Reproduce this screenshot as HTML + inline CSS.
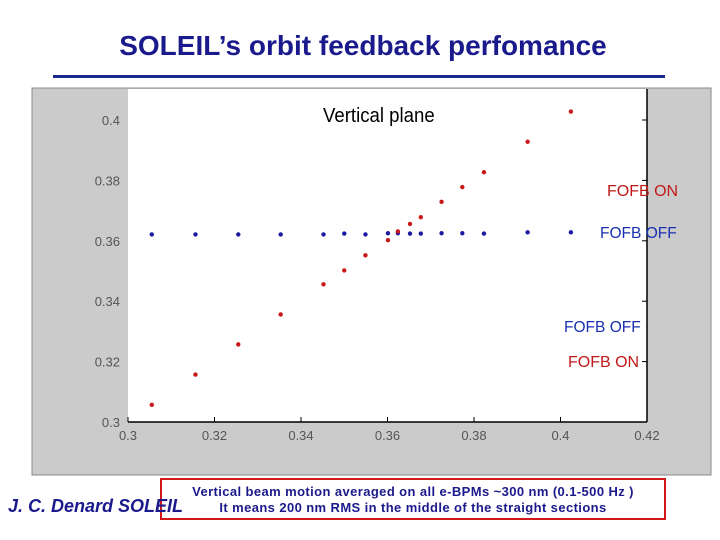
<!DOCTYPE html>
<html><head><meta charset="utf-8"><style>
body{margin:0;width:720px;height:540px;background:#fff;overflow:hidden;font-family:"Liberation Sans",sans-serif;position:relative}
.t{position:absolute;white-space:nowrap}
</style></head><body>
<div class="t" style="left:0;width:726px;top:30px;text-align:center;font-size:28px;font-weight:bold;color:#1a1a8c">SOLEIL’s orbit feedback perfomance</div>
<div style="position:absolute;left:53px;top:75px;width:612px;height:3px;background:#1a2a8c"></div>
<svg width="720" height="540" style="position:absolute;left:0;top:0" id="chart">
<rect x="32" y="88" width="679" height="387" fill="#cbcbcb" stroke="#888" stroke-width="1"/>
<rect x="128" y="89" width="519" height="333" fill="#fff"/>
<line x1="647" y1="89" x2="647" y2="422" stroke="#000" stroke-width="1.5"/>
<line x1="128" y1="422" x2="647" y2="422" stroke="#000" stroke-width="1.5"/>
<g id="ticks"></g><g id="pts"></g>
</svg>
<div class="t" style="left:323px;top:105px;font-size:20px;color:#000;transform:scaleX(0.93);transform-origin:left">Vertical plane</div>
<div class="t" style="left:607px;top:183px;font-size:16px;color:#c01818">FOFB ON</div>
<div class="t" style="left:600px;top:225px;font-size:16px;color:#1a30b0;transform:scaleX(0.97);transform-origin:left">FOFB OFF</div>
<div class="t" style="left:564px;top:319px;font-size:16px;color:#1a30b0;transform:scaleX(0.97);transform-origin:left">FOFB OFF</div>
<div class="t" style="left:568px;top:354px;font-size:16px;color:#c01818">FOFB ON</div>
<div style="position:absolute;left:160px;top:478px;width:506px;height:42px;border:2px solid #d01818;font-size:13px;font-weight:bold;color:#1a1a8c;text-align:center;line-height:16px;padding-top:4px;box-sizing:border-box;letter-spacing:0.4px">Vertical beam motion averaged on all e-BPMs ~300 nm (0.1-500 Hz )<br>It means 200 nm RMS in the middle of the straight sections</div>
<div class="t" style="left:8px;top:496px;font-size:18px;font-weight:bold;font-style:italic;color:#1a1a8c">J. C. Denard SOLEIL</div>
<script>
const xTicks=[0.3,0.32,0.34,0.36,0.38,0.4,0.42];
const yTicks=[0.3,0.32,0.34,0.36,0.38,0.4];
const xVals=[0.3055,0.3156,0.3255,0.3353,0.3452,0.350,0.3549,0.3601,0.3624,0.3652,0.3677,0.3725,0.3773,0.3823,0.3924,0.4024];
const onVals=[0.3057,0.3157,0.3257,0.3356,0.3456,0.3502,0.3552,0.3602,0.3631,0.3656,0.3678,0.3729,0.3778,0.3827,0.3928,0.4028];
const offVals=[0.3621,0.3621,0.3621,0.3621,0.3621,0.3624,0.3621,0.3625,0.3625,0.3624,0.3624,0.3625,0.3625,0.3624,0.3628,0.3628];
const X=v=>128+(v-0.3)/0.12*519, Y=v=>422-(v-0.3)/0.1*302;
const NS='http://www.w3.org/2000/svg';
const tg=document.getElementById('ticks'), pg=document.getElementById('pts');
function mk(tag,a,p){const e=document.createElementNS(NS,tag);for(const k in a)e.setAttribute(k,a[k]);p.appendChild(e);return e;}
xTicks.forEach(v=>{
 const t=mk('text',{x:X(v),y:440,'text-anchor':'middle','font-size':13,fill:'#555','font-family':'Liberation Sans'},tg);
 
 
 t.textContent=String(v);
 mk('line',{x1:X(v),y1:422,x2:X(v),y2:417,stroke:'#000'},tg);
});
yTicks.forEach(v=>{
 const t=mk('text',{x:120,y:Y(v)+5,'text-anchor':'end','font-size':13,fill:'#555','font-family':'Liberation Sans'},tg);
 
 
 t.textContent=String(v);
 mk('line',{x1:647,y1:Y(v),x2:642,y2:Y(v),stroke:'#000'},tg);
});
xVals.forEach((x,i)=>{
 const b=mk('circle',{cx:X(x),cy:Y(offVals[i]),r:2.2,fill:'#1a1aa0'},pg);
 
 
 const r=mk('circle',{cx:X(x),cy:Y(onVals[i]),r:2.2,fill:'#c81818'},pg);
 
 
});
</script>
</body></html>
